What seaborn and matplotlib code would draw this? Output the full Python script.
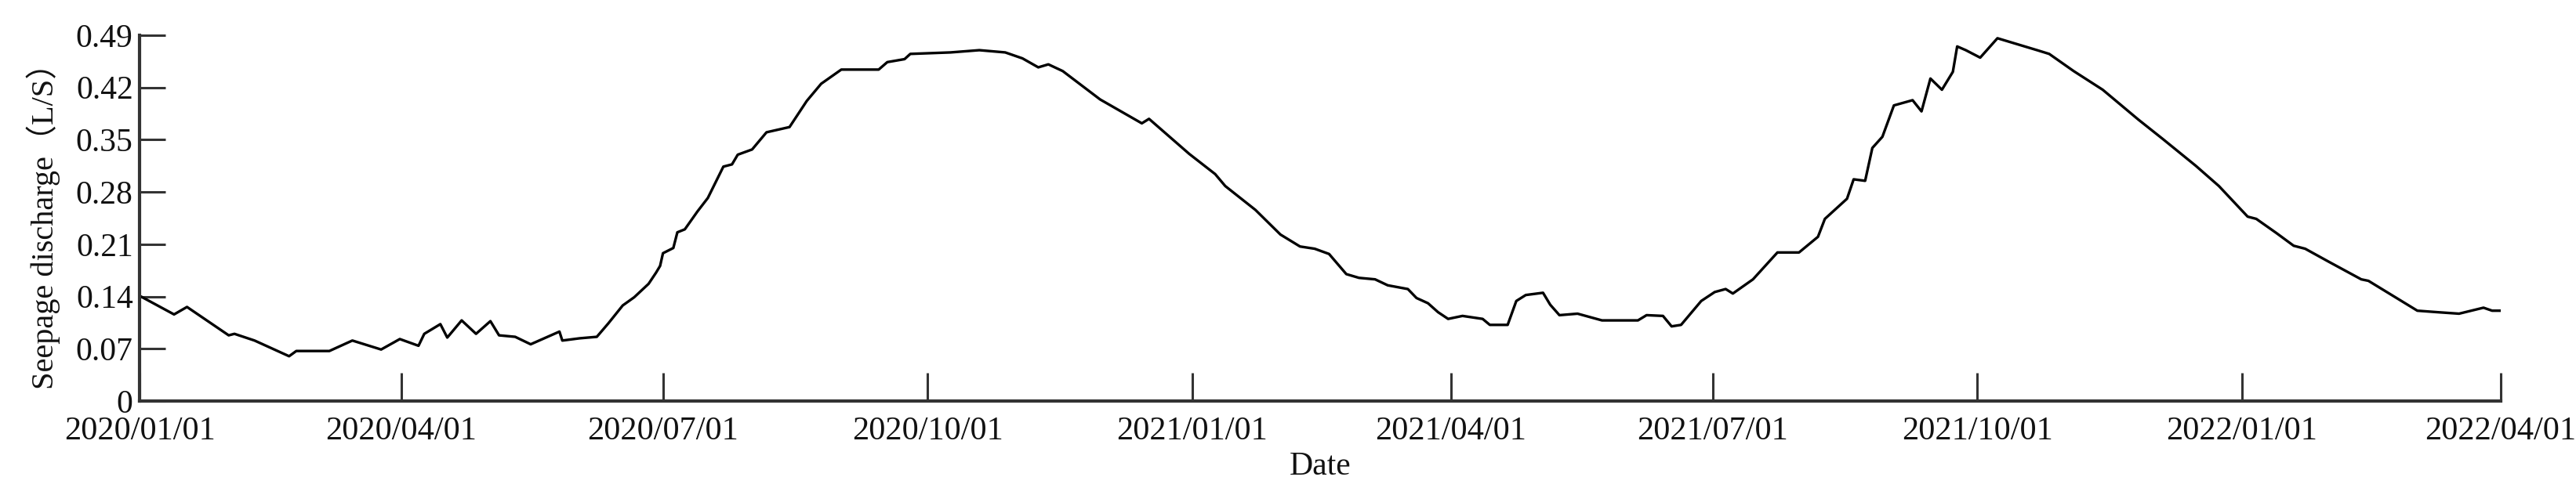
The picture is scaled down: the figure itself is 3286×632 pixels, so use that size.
import numpy as np
import pandas as pd
import matplotlib
matplotlib.use("Agg")
import matplotlib.pyplot as plt
import matplotlib.dates as mdates
import seaborn as sns

# ---- data (days since 2020-01-01, seepage discharge in L/S) ----
start_date = "2020-01-01"
day_offsets = [
    0, 12, 16.5, 31, 33, 40, 52, 54.5, 66, 74, 84, 90.5, 97, 99, 104.6, 107,
    112, 117, 122, 125, 130.6, 136, 146, 147, 153, 159, 163, 168, 172, 177,
    179.6, 181, 182, 185.6, 187, 189.6, 194, 197.6, 203, 206, 208, 213, 218,
    226, 232, 237, 244, 257, 260, 266, 268, 282, 292, 301, 307, 312.5, 316,
    321, 334, 348.5, 351, 365, 374, 377.5, 388, 396.7, 403.5, 408.6, 413.6,
    419.6, 424, 429.6, 434, 441, 444, 448, 451.5, 455, 460, 467, 469.5, 475.7,
    478.7, 482, 488, 490.5, 493.7, 500, 508.5, 516, 521, 524, 529.7, 532.7,
    536, 543, 547.7, 551.5, 554, 561, 569.5, 577, 583.6, 586, 593.7, 596, 600,
    602.5, 606, 610, 616.5, 619.6, 622.7, 626.7, 630.5, 632, 635, 640, 646,
    659.8, 664, 672.5, 682.6, 695, 703.5, 715, 723, 733, 736, 743, 749, 753,
    761, 772.5, 775, 792, 799, 806.5, 815, 818, 821,
]
discharge = [
    0.141, 0.116, 0.126, 0.088, 0.090, 0.081, 0.060, 0.067, 0.067, 0.081, 0.069,
    0.083, 0.074, 0.090, 0.103, 0.085, 0.108, 0.090, 0.107, 0.088, 0.086, 0.076,
    0.093, 0.081, 0.084, 0.086, 0.104, 0.128, 0.139, 0.157, 0.172, 0.181, 0.198,
    0.205, 0.226, 0.230, 0.254, 0.272, 0.314, 0.317, 0.330, 0.337, 0.360, 0.367,
    0.402, 0.425, 0.444, 0.444, 0.454, 0.458, 0.465, 0.467, 0.470, 0.467, 0.459,
    0.447, 0.451, 0.442, 0.404, 0.372, 0.378, 0.331, 0.304, 0.288, 0.256, 0.223,
    0.207, 0.204, 0.197, 0.170, 0.165, 0.163, 0.155, 0.150, 0.138, 0.131, 0.119,
    0.110, 0.114, 0.110, 0.102, 0.102, 0.134, 0.142, 0.145, 0.129, 0.115, 0.117,
    0.108, 0.108, 0.108, 0.115, 0.114, 0.100, 0.102, 0.134, 0.146, 0.150, 0.144,
    0.163, 0.199, 0.199, 0.220, 0.244, 0.271, 0.297, 0.295, 0.339, 0.354, 0.396,
    0.403, 0.388, 0.432, 0.417, 0.441, 0.475, 0.470, 0.460, 0.486, 0.470, 0.465,
    0.442, 0.417, 0.377, 0.351, 0.315, 0.288, 0.247, 0.244, 0.225, 0.208, 0.204,
    0.187, 0.163, 0.161, 0.121, 0.119, 0.117, 0.125, 0.121, 0.121,
]
x_tick_dates = ["2020-01-01", "2020-04-01", "2020-07-01", "2020-10-01",
                "2021-01-01", "2021-04-01", "2021-07-01", "2021-10-01",
                "2022-01-01", "2022-04-01"]
x_tick_labels = ["2020/01/01", "2020/04/01", "2020/07/01", "2020/10/01",
                 "2021/01/01", "2021/04/01", "2021/07/01", "2021/10/01",
                 "2022/01/01", "2022/04/01"]
y_ticks = [0, 0.07, 0.14, 0.21, 0.28, 0.35, 0.42, 0.49]
y_tick_labels = ["0", "0.07", "0.14", "0.21", "0.28", "0.35", "0.42", "0.49"]
x_label = "Date"
y_label = "Seepage discharge（L/S）"

df = pd.DataFrame({
    "date": pd.Timestamp(start_date) + pd.to_timedelta(day_offsets, unit="D"),
    "value": discharge,
})

sns.set_style("ticks")
plt.rcParams["font.family"] = ["Liberation Serif", "Noto Sans CJK SC"]
plt.rcParams["mathtext.fontset"] = "stix"

fig = plt.figure(figsize=(32.86, 6.32), dpi=100)
ax = fig.add_axes([178 / 3286, 1 - 512 / 632, (3190 - 178) / 3286, (512 - 45) / 632])

sns.lineplot(data=df, x="date", y="value", ax=ax, color="black", linewidth=2.4)

ax.set_xlim(pd.Timestamp(x_tick_dates[0]), pd.Timestamp(x_tick_dates[-1]))
ax.set_ylim(0, 0.49)
ax.set_xticks([pd.Timestamp(d) for d in x_tick_dates])
ax.set_xticklabels(x_tick_labels)
ax.set_yticks(y_ticks)
ax.set_yticklabels(y_tick_labels)

spine_color = "#333333"
for s in ["top", "right"]:
    ax.spines[s].set_visible(False)
for s in ["left", "bottom"]:
    ax.spines[s].set_linewidth(3.0)
    ax.spines[s].set_color(spine_color)

ax.tick_params(axis="y", direction="in", length=24, width=2.2, color=spine_color,
               labelsize=30, pad=6, labelcolor="#111111")
ax.tick_params(axis="x", direction="in", length=26, width=2.2, color=spine_color,
               labelsize=30.5, pad=14, labelcolor="#111111")

ax.set_xlabel(x_label, fontsize=30, labelpad=5, color="#111111")
ax.set_ylabel(y_label, fontsize=29, labelpad=14, color="#111111",
              family=["Liberation Serif", "Noto Sans CJK SC"])

fig.savefig("out.png", dpi=100, facecolor="white")
